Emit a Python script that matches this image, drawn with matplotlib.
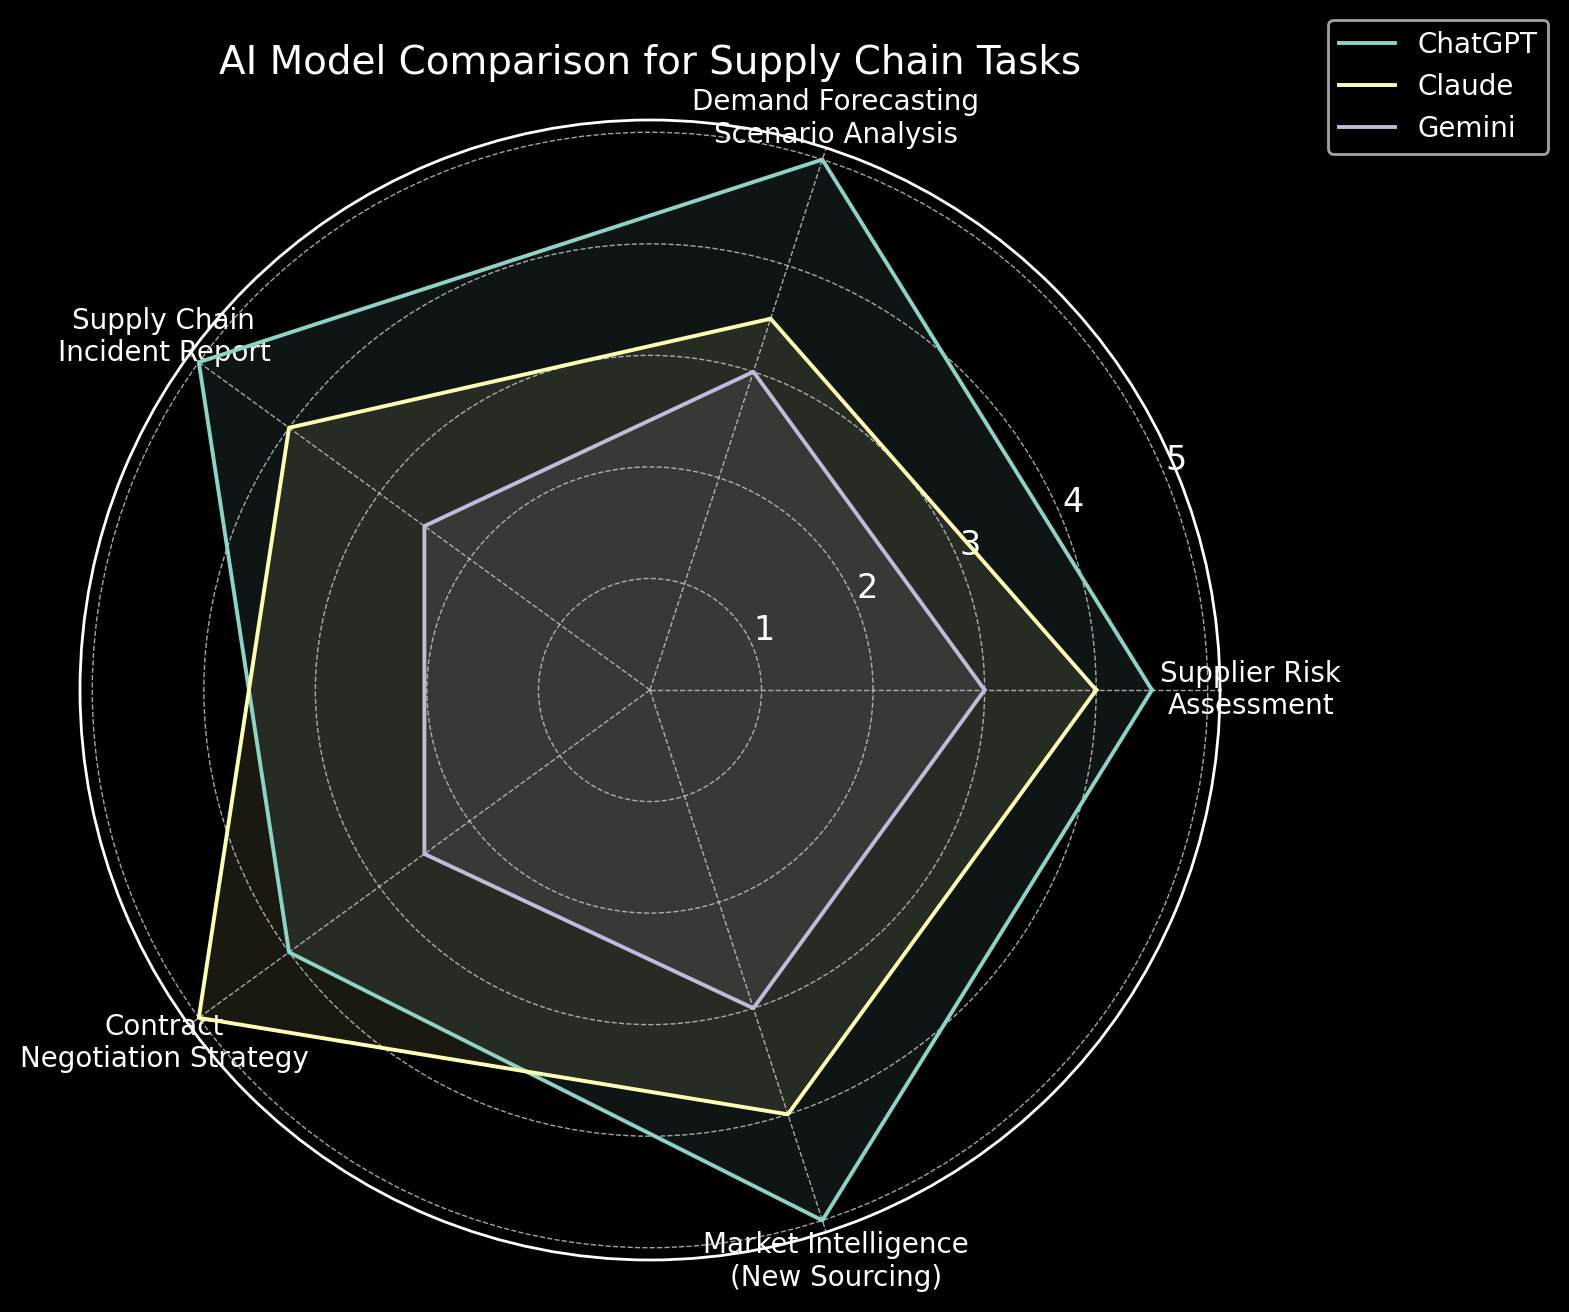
import numpy as np
import matplotlib
matplotlib.use("Agg")
import matplotlib.pyplot as plt

plt.style.use("dark_background")

categories = ["Supplier Risk\nAssessment", "Demand Forecasting\nScenario Analysis",
              "Supply Chain\nIncident Report", "Contract\nNegotiation Strategy",
              "Market Intelligence\n(New Sourcing)"]
models = ["ChatGPT", "Claude", "Gemini"]
chatgpt = [4.5, 5.0, 5.0, 4.0, 5.0]
claude = [4.0, 3.5, 4.0, 5.0, 4.0]
gemini = [3.0, 3.0, 2.5, 2.5, 3.0]
series = [chatgpt, claude, gemini]
rticks = [1, 2, 3, 4, 5]

W, H, DPI = 1569, 1312, 200
fig = plt.figure(figsize=(W / DPI, H / DPI), dpi=DPI)
cx, cy, R = 650, 690, 570
ax = fig.add_axes([(cx - R) / W, 1 - (cy + R) / H, 2 * R / W, 2 * R / H], polar=True)

n = len(categories)
angles = np.linspace(0, 2 * np.pi, n, endpoint=False).tolist()
angles_c = angles + angles[:1]

for name, vals in zip(models, series):
    v = vals + vals[:1]
    line, = ax.plot(angles_c, v, linewidth=1.4, label=name)
    ax.fill(angles_c, v, alpha=0.1, color=line.get_color())

ax.set_xticks(angles)
ax.set_xticklabels(categories, fontsize=10)
ax.tick_params(axis="x", pad=0.6)
ax.set_yticks(rticks)
ax.set_yticklabels([str(t) for t in rticks], fontsize=12)
ax.set_ylim(0, 5.11)
ax.grid(True, linestyle="--", linewidth=0.5, color="#cccccc", alpha=0.8)
ax.spines["polar"].set_color("white")
ax.spines["polar"].set_linewidth(1.0)

ax.set_title("AI Model Comparison for Supply Chain Tasks", fontsize=14, pad=16.4)
ax.legend(loc="upper right", bbox_to_anchor=(1.3, 1.1), fontsize=10)

fig.savefig("out.png", dpi=DPI)
